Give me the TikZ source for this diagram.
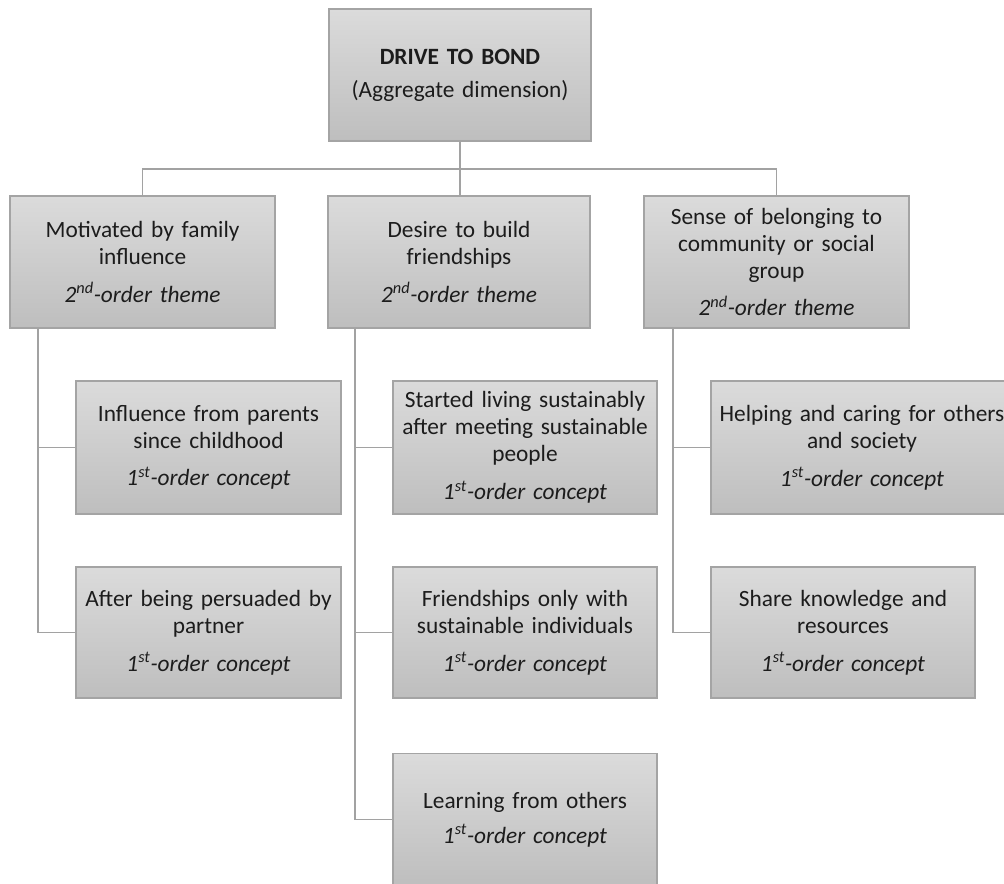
\documentclass[tikz,border=0pt]{standalone}
\usepackage{fontspec}
\setmainfont{Carlito}
\usetikzlibrary{shadows}

\definecolor{boxtop}{HTML}{DBDBDB}
\definecolor{boxbot}{HTML}{BEBEBE}
\definecolor{boxline}{HTML}{A4A4A4}
\definecolor{linkline}{HTML}{A2A2A2}
\definecolor{inkcol}{HTML}{1C1C1C}

\newcommand\orderlabel[3]{\textit{#1\textsuperscript{#2}-order #3}}

\begin{document}
\begin{tikzpicture}[x=0.75pt,y=-0.75pt,
  card/.style={draw=boxline, line width=0.8pt, top color=boxtop, bottom color=boxbot,
    inner sep=0pt, align=center, text=inkcol,
    font=\fontsize{17.5}{20.25}\selectfont,
    drop shadow={shadow xshift=0.9pt, shadow yshift=-0.9pt, opacity=0.18, fill=black}},
  std/.style={card, minimum width=198.75pt, text width=194pt, minimum height=99pt},
  link/.style={draw=linkline, line width=1.1pt},
]
\useasboundingbox (0,0) rectangle (1004,883);

% aggregate dimension
\node[card, minimum width=196.5pt, text width=192pt, minimum height=99pt] (top) at (460,75)
  {\textbf{DRIVE TO BOND}\\[4.5pt](Aggregate dimension)};

% second-order themes
\node[std] (s1) at (142.5,262)
  {Motivated by family\\influence\\[8pt]\orderlabel{2}{nd}{theme}};
\node[std, minimum width=196.5pt] (s2) at (459,262)
  {Desire to build\\friendships\\[8pt]\orderlabel{2}{nd}{theme}};
\node[std] (s3) at (776.5,262)
  {Sense of belonging to\\community or social\\group\\[8pt]\orderlabel{2}{nd}{theme}};

% first-order concepts
\node[std, minimum height=99.75pt] (fA1) at (208.5,447.5)
  {Influence from parents\\since childhood\\[8pt]\orderlabel{1}{st}{concept}};
\node[std, minimum height=98.25pt] (fA2) at (208.5,632.5)
  {After being persuaded by\\partner\\[8pt]\orderlabel{1}{st}{concept}};

\node[std, minimum width=198pt, minimum height=99.75pt] (fB1) at (525,447.5)
  {Started living sustainably\\after meeting sustainable\\people\\[8pt]\orderlabel{1}{st}{concept}};
\node[std, minimum width=198pt, minimum height=98.25pt] (fB2) at (525,632.5)
  {Friendships only with\\sustainable individuals\\[8pt]\orderlabel{1}{st}{concept}};
\node[std, minimum width=198pt] (fB3) at (525,819.5)
  {Learning from others\\[6pt]\orderlabel{1}{st}{concept}};

\node[std, minimum width=226.5pt, text width=226pt, minimum height=99.75pt] (fC1) at (862,447.5)
  {Helping and caring for others\\and society\\[8pt]\orderlabel{1}{st}{concept}};
\node[std, minimum width=198pt, minimum height=98.25pt] (fC2) at (843,632.5)
  {Share knowledge and\\resources\\[8pt]\orderlabel{1}{st}{concept}};

% connectors
\coordinate (bus) at (0,169);
\coordinate (spA) at (38,0);
\coordinate (spB) at (355,0);
\coordinate (spC) at (673,0);

\draw[link] (top.south) -- (top.south |- s2.north);
\draw[link] (s1.north) -- (s1.north |- bus) -- (s3.north |- bus) -- (s3.north);

\draw[link] (s1.south -| spA) |- (fA2.west);
\draw[link] (spA |- fA1.west) -- (fA1.west);

\draw[link] (s2.south -| spB) |- (fB3.west);
\draw[link] (spB |- fB1.west) -- (fB1.west);
\draw[link] (spB |- fB2.west) -- (fB2.west);

\draw[link] (s3.south -| spC) |- (fC2.west);
\draw[link] (spC |- fC1.west) -- (fC1.west);
\end{tikzpicture}
\end{document}
